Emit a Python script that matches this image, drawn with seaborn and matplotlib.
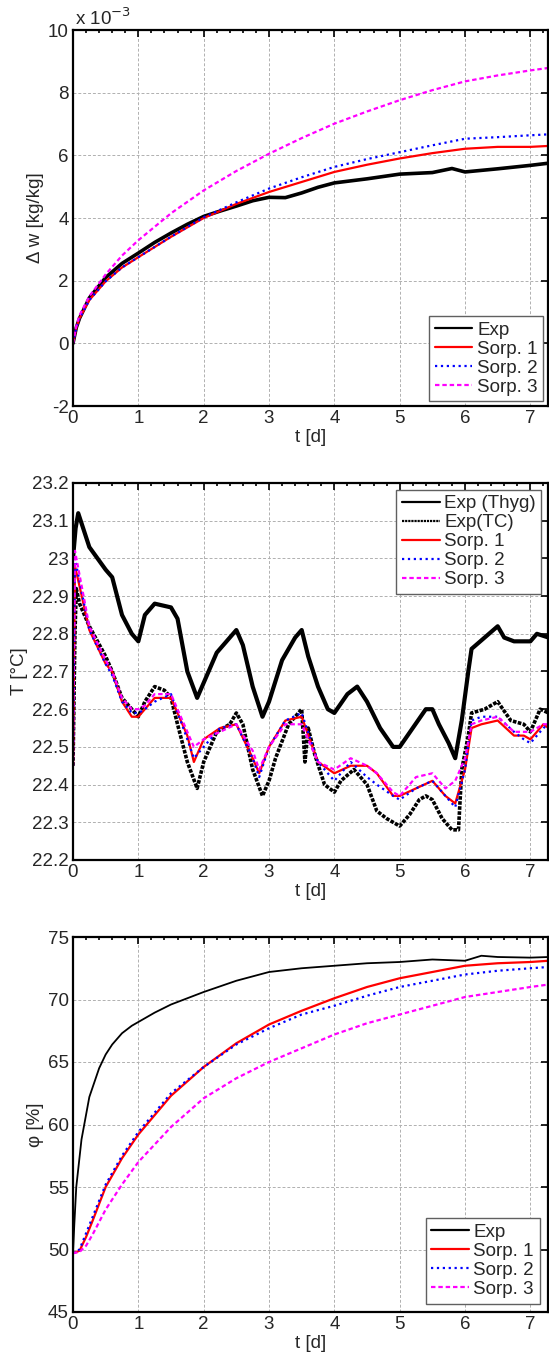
import numpy as np
import matplotlib
matplotlib.use("Agg")
import matplotlib.pyplot as plt
import seaborn as sns
from matplotlib.ticker import MultipleLocator, FuncFormatter

# ---- panel 1: moisture uptake dw [x 1e-3 kg/kg] ----
t_dw_exp = [0, 0.05, 0.1, 0.25, 0.5, 0.75, 1.0, 1.25, 1.5, 1.75, 2.0, 2.25, 2.5, 2.75,
            3.0, 3.25, 3.5, 3.75, 4.0, 4.5, 5.0, 5.5, 5.8, 6.0, 6.5, 7.0, 7.28]
dw_exp = [0, 0.5, 0.8, 1.45, 2.1, 2.55, 2.88, 3.22, 3.52, 3.8, 4.05, 4.22, 4.38, 4.55,
          4.66, 4.65, 4.8, 4.98, 5.12, 5.25, 5.4, 5.45, 5.58, 5.47, 5.57, 5.68, 5.75]
t_dw_mod = [0, 0.05, 0.1, 0.25, 0.5, 0.75, 1.0, 1.5, 2.0, 2.5, 3.0, 3.5, 4.0, 4.5, 5.0,
            5.5, 6.0, 6.5, 7.0, 7.28]
dw_sorp1 = [0, 0.5, 0.8, 1.38, 1.98, 2.42, 2.75, 3.4, 4.0, 4.45, 4.83, 5.15, 5.47, 5.7, 5.9,
            6.07, 6.21, 6.27, 6.27, 6.3]
dw_sorp2 = [0, 0.5, 0.8, 1.38, 1.98, 2.42, 2.75, 3.4, 4.02, 4.5, 4.94, 5.3, 5.63, 5.88, 6.1,
            6.32, 6.53, 6.58, 6.64, 6.67]
dw_sorp3 = [0, 0.55, 0.9, 1.5, 2.2, 2.8, 3.29, 4.15, 4.88, 5.5, 6.05, 6.55, 7.01, 7.4, 7.76,
            8.08, 8.36, 8.55, 8.71, 8.79]

# ---- panel 2: temperature [degC] ----
t_T_hyg = [0, 0.04, 0.08, 0.25, 0.5, 0.6, 0.75, 0.9, 1.0, 1.1, 1.25, 1.5, 1.6, 1.75, 1.9,
           2.0, 2.2, 2.4, 2.5, 2.6, 2.75, 2.9, 3.0, 3.2, 3.4, 3.5, 3.6, 3.75, 3.9, 4.0,
           4.2, 4.35, 4.5, 4.7, 4.9, 5.0, 5.2, 5.4, 5.5, 5.6, 5.75, 5.85, 5.95, 6.05,
           6.1, 6.3, 6.5, 6.6, 6.75, 7.0, 7.1, 7.28]
T_hyg = [23.0, 23.08, 23.12, 23.03, 22.97, 22.95, 22.85, 22.8, 22.78, 22.85, 22.88, 22.87,
         22.84, 22.7, 22.63, 22.67, 22.75, 22.79, 22.81, 22.77, 22.66, 22.58, 22.62, 22.73,
         22.79, 22.81, 22.74, 22.66, 22.6, 22.59, 22.64, 22.66, 22.62, 22.55, 22.5, 22.5,
         22.55, 22.6, 22.6, 22.56, 22.51, 22.47, 22.57, 22.7, 22.76, 22.79, 22.82, 22.79,
         22.78, 22.78, 22.8, 22.79]
t_T_tc = [0, 0.03, 0.05, 0.1, 0.25, 0.5, 0.6, 0.75, 0.9, 1.0, 1.1, 1.25, 1.4, 1.5, 1.6,
          1.75, 1.9, 2.0, 2.2, 2.4, 2.5, 2.6, 2.75, 2.9, 3.0, 3.1, 3.3, 3.5, 3.55, 3.6,
          3.7, 3.85, 4.0, 4.1, 4.3, 4.5, 4.65, 4.8, 5.0, 5.15, 5.3, 5.4, 5.5, 5.65, 5.8,
          5.9, 5.95, 6.05, 6.1, 6.3, 6.5, 6.7, 6.9, 7.0, 7.15, 7.28]
T_tc = [22.45, 22.8, 22.92, 22.88, 22.82, 22.74, 22.7, 22.63, 22.6, 22.58, 22.62, 22.66,
        22.65, 22.63, 22.56, 22.46, 22.39, 22.46, 22.54, 22.56, 22.59, 22.56, 22.44, 22.37,
        22.41, 22.47, 22.56, 22.6, 22.46, 22.55, 22.48, 22.4, 22.38, 22.41, 22.44, 22.4,
        22.33, 22.31, 22.29, 22.32, 22.36, 22.37, 22.36, 22.31, 22.28, 22.28, 22.44, 22.53,
        22.59, 22.6, 22.62, 22.57, 22.56, 22.54, 22.6, 22.59]
t_T_mod = [0, 0.03, 0.25, 0.5, 0.6, 0.75, 0.9, 1.0, 1.1, 1.25, 1.5, 1.75, 1.85, 2.0, 2.25,
           2.5, 2.75, 2.85, 3.0, 3.25, 3.5, 3.75, 4.0, 4.25, 4.5, 4.65, 4.9, 5.0, 5.25,
           5.5, 5.7, 5.85, 6.0, 6.1, 6.25, 6.5, 6.75, 6.9, 7.0, 7.2, 7.28]
T_sorp1 = [22.45, 22.98, 22.81, 22.72, 22.7, 22.62, 22.58, 22.58, 22.6, 22.63, 22.63, 22.53,
           22.46, 22.52, 22.55, 22.56, 22.47, 22.43, 22.5, 22.57, 22.58, 22.46, 22.43, 22.45,
           22.45, 22.43, 22.37, 22.37, 22.39, 22.41, 22.37, 22.35, 22.44, 22.55, 22.56, 22.57,
           22.53, 22.53, 22.52, 22.56, 22.55]
T_sorp2 = [22.45, 23.0, 22.81, 22.72, 22.69, 22.62, 22.59, 22.59, 22.6, 22.62, 22.64, 22.52,
           22.47, 22.5, 22.55, 22.56, 22.47, 22.42, 22.5, 22.57, 22.59, 22.46, 22.41, 22.46,
           22.42, 22.4, 22.37, 22.36, 22.39, 22.41, 22.37, 22.34, 22.44, 22.57, 22.58, 22.58,
           22.54, 22.52, 22.51, 22.55, 22.56]
T_sorp3 = [22.45, 23.02, 22.82, 22.73, 22.7, 22.63, 22.6, 22.6, 22.61, 22.64, 22.64, 22.54,
           22.5, 22.52, 22.54, 22.56, 22.49, 22.44, 22.5, 22.56, 22.56, 22.46, 22.44, 22.47,
           22.45, 22.43, 22.38, 22.37, 22.42, 22.43, 22.39, 22.41, 22.47, 22.56, 22.57, 22.58,
           22.54, 22.54, 22.54, 22.56, 22.56]

# ---- panel 3: relative humidity [%] ----
t_phi_exp = [0, 0.02, 0.05, 0.13, 0.25, 0.4, 0.5, 0.6, 0.75, 0.9, 1.0, 1.1, 1.25, 1.5,
             1.75, 2.0, 2.5, 3.0, 3.5, 4.0, 4.5, 5.0, 5.5, 6.0, 6.25, 6.5, 7.0, 7.28]
phi_exp = [49.7, 52.0, 55.0, 58.8, 62.2, 64.5, 65.6, 66.4, 67.3, 67.9, 68.2, 68.5, 68.95,
           69.6, 70.1, 70.6, 71.5, 72.2, 72.5, 72.7, 72.9, 73.0, 73.2, 73.1, 73.5, 73.4,
           73.35, 73.4]
t_phi_mod = [0, 0.1, 0.2, 0.3, 0.5, 0.75, 1.0, 1.5, 2.0, 2.5, 3.0, 3.5, 4.0, 4.5, 5.0, 5.5,
             6.0, 6.5, 7.0, 7.28]
phi_sorp1 = [49.7, 49.9, 51.0, 52.3, 55.0, 57.3, 59.2, 62.3, 64.6, 66.5, 68.0, 69.1, 70.1,
             71.0, 71.7, 72.2, 72.7, 72.9, 73.0, 73.1]
phi_sorp2 = [49.7, 50.0, 51.3, 52.6, 55.2, 57.5, 59.4, 62.5, 64.6, 66.4, 67.7, 68.8, 69.5,
             70.3, 71.0, 71.5, 72.0, 72.3, 72.5, 72.6]
phi_sorp3 = [49.7, 49.8, 50.3, 51.2, 53.2, 55.2, 57.0, 59.8, 62.1, 63.7, 65.0, 66.1, 67.2,
             68.1, 68.8, 69.5, 70.2, 70.6, 71.0, 71.2]

sns.set_style("white")
plt.rcParams["font.family"] = ["Liberation Sans", "DejaVu Sans"]
plt.rcParams["axes.unicode_minus"] = False
fs = 13.5

fig = plt.figure(figsize=(5.49, 13.57), dpi=100)
W, H = 549, 1357
boxes = [(30, 406), (483, 860), (937, 1312)]
axes = []
for top, bot in boxes:
    axes.append(fig.add_axes([73 / W, 1 - bot / H, (548 - 73) / W, (bot - top) / H]))

magenta_dash = (0, (2, 1.3))
leg_kw = dict(fontsize=fs, frameon=True, fancybox=False, edgecolor="#606060",
              handlelength=2.0, handletextpad=0.25, labelspacing=0.1,
              borderpad=0.3, framealpha=1)


def style_axis(ax, ylim, ystep):
    ax.set_xlim(0, 7.27)
    ax.set_ylim(*ylim)
    ax.xaxis.set_major_locator(MultipleLocator(1))
    ax.xaxis.set_minor_locator(MultipleLocator(0.2))
    ax.yaxis.set_major_locator(MultipleLocator(ystep))
    ax.yaxis.set_major_formatter(FuncFormatter(lambda v, p: "%g" % round(v, 3)))
    ax.tick_params(which="both", direction="in", top=True, right=True, labelsize=fs,
                   width=1.2, color="black", pad=3)
    ax.tick_params(which="major", length=5)
    ax.tick_params(which="minor", length=2.5)
    ax.grid(True, which="major", linestyle=(0, (3, 2)), color="#b0b0b0", linewidth=0.7)
    for s in ax.spines.values():
        s.set_color("black")
        s.set_linewidth(1.6)
    ax.set_xlabel("t [d]", fontsize=fs, labelpad=1)


# panel 1
ax = axes[0]
sns.lineplot(x=t_dw_exp, y=dw_exp, ax=ax, color="black", lw=2.6, label="Exp")
sns.lineplot(x=t_dw_mod, y=dw_sorp1, ax=ax, color="red", lw=1.6, label="Sorp. 1")
sns.lineplot(x=t_dw_mod, y=dw_sorp2, ax=ax, color="blue", lw=1.6, linestyle=":", label="Sorp. 2")
sns.lineplot(x=t_dw_mod, y=dw_sorp3, ax=ax, color="magenta", lw=1.6, linestyle=magenta_dash, label="Sorp. 3")
style_axis(ax, (-2, 10), 2)
ax.set_ylabel("Δ w [kg/kg]", fontsize=fs, labelpad=3)
ax.text(0.005, 1.003, "x 10$^{-3}$", transform=ax.transAxes, fontsize=fs, va="bottom", ha="left")
leg = ax.legend(loc="lower right", borderaxespad=0.25, **leg_kw)
for h in leg.get_lines():
    h.set_linewidth(1.6)

# panel 2
ax = axes[1]
sns.lineplot(x=t_T_hyg, y=T_hyg, ax=ax, color="black", lw=3.0, label="Exp (Thyg)")
sns.lineplot(x=t_T_tc, y=T_tc, ax=ax, color="black", lw=2.6, linestyle=(0, (1, 0.4)), label="Exp(TC)")
sns.lineplot(x=t_T_mod, y=T_sorp1, ax=ax, color="red", lw=1.6, label="Sorp. 1")
sns.lineplot(x=t_T_mod, y=T_sorp2, ax=ax, color="blue", lw=1.6, linestyle=":", label="Sorp. 2")
sns.lineplot(x=t_T_mod, y=T_sorp3, ax=ax, color="magenta", lw=1.6, linestyle=magenta_dash, label="Sorp. 3")
style_axis(ax, (22.2, 23.2), 0.1)
ax.set_ylabel("T [°C]", fontsize=fs, labelpad=3)
leg = ax.legend(loc="upper right", borderaxespad=0.35, **leg_kw)
for h in leg.get_lines():
    h.set_linewidth(1.6)

# panel 3
ax = axes[2]
sns.lineplot(x=t_phi_exp, y=phi_exp, ax=ax, color="black", lw=1.3, label="Exp")
sns.lineplot(x=t_phi_mod, y=phi_sorp1, ax=ax, color="red", lw=1.6, label="Sorp. 1")
sns.lineplot(x=t_phi_mod, y=phi_sorp2, ax=ax, color="blue", lw=1.6, linestyle=":", label="Sorp. 2")
sns.lineplot(x=t_phi_mod, y=phi_sorp3, ax=ax, color="magenta", lw=1.6, linestyle=magenta_dash, label="Sorp. 3")
style_axis(ax, (45, 75), 5)
ax.set_ylabel("φ [%]", fontsize=fs, labelpad=3)
leg = ax.legend(loc="lower right", borderaxespad=0.45, **leg_kw)
for h in leg.get_lines():
    h.set_linewidth(1.6)

fig.savefig("out.png", dpi=100)
